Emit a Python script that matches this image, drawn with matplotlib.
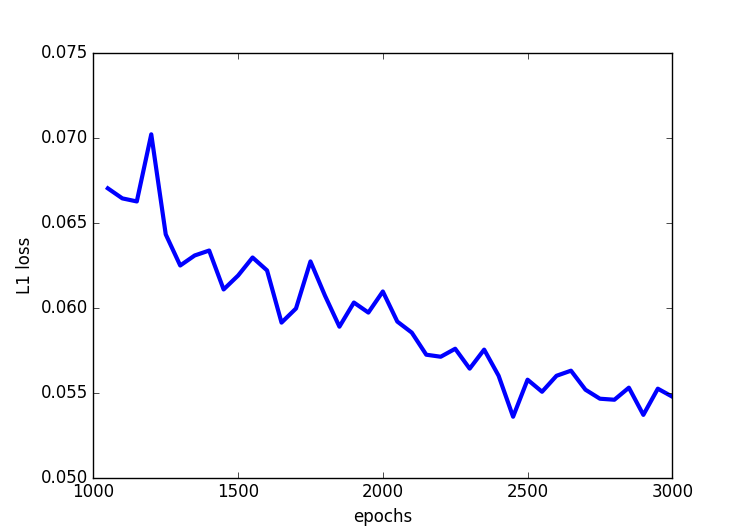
import matplotlib
matplotlib.use('Agg')
import matplotlib.pyplot as plt

plt.style.use('classic')

epochs = list(range(1050, 3001, 50))
l1_loss = [0.06704, 0.06645, 0.06627, 0.07022, 0.06433, 0.06250, 0.06309, 0.06338,
           0.06109, 0.06191, 0.06297, 0.06221, 0.05914, 0.05997, 0.06274, 0.06073,
           0.05890, 0.06032, 0.05973, 0.06097, 0.05920, 0.05855, 0.05725, 0.05713,
           0.05760, 0.05643, 0.05755, 0.05601, 0.05360, 0.05578, 0.05507, 0.05601,
           0.05631, 0.05519, 0.05466, 0.05460, 0.05531, 0.05371, 0.05525, 0.05478]

fig = plt.figure(figsize=(7.47, 5.31), dpi=100, facecolor='white')
plt.plot(epochs, l1_loss, color='b', linewidth=3)
plt.xlim(1000, 3000)
plt.ylim(0.050, 0.075)
plt.xlabel('epochs')
plt.ylabel('L1 loss')
plt.savefig('out.png', dpi=100, facecolor='white')
